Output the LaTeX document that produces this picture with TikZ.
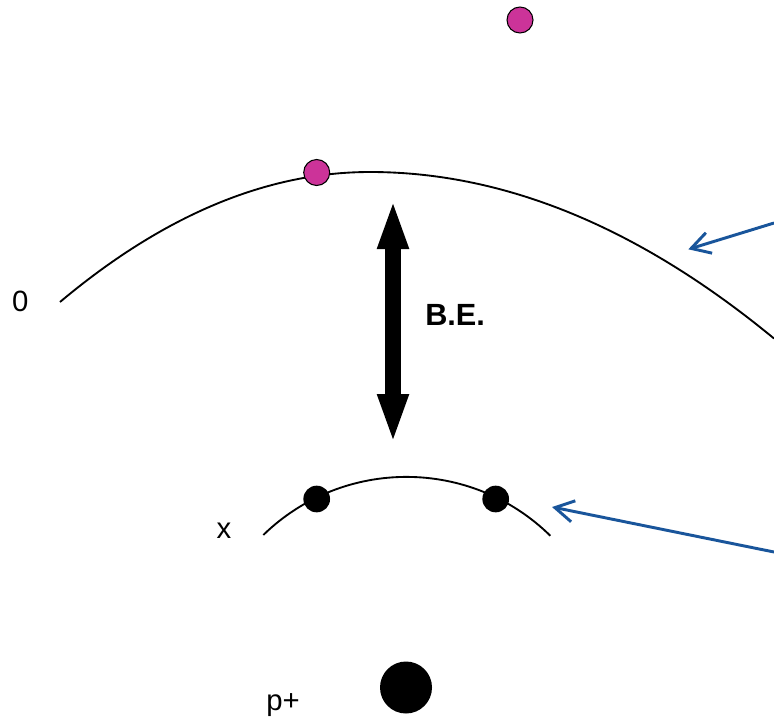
\documentclass[tikz,border=0pt]{standalone}
\usepackage{fontspec}
\setmainfont{Liberation Sans}
\usetikzlibrary{arrows.meta}
\definecolor{elecmag}{RGB}{204,51,153}
\definecolor{pointblue}{RGB}{25,85,155}
\tikzset{
  shellline/.style={line width=1.4pt, black},
  electron/.style={circle, draw=black, line width=0.8pt, fill=elecmag, inner sep=0pt, minimum size=19.5pt},
  boundelectron/.style={circle, fill=black, inner sep=0pt, minimum size=20pt},
  nucleus/.style={circle, fill=black, inner sep=0pt, minimum size=39pt},
  lbl/.style={font=\fontsize{22pt}{26pt}\selectfont, inner sep=0pt},
  belbl/.style={font=\fontsize{23pt}{27pt}\selectfont\bfseries, inner sep=0pt},
  bearrow/.style={line width=12pt, {Triangle[length=37.5pt,width=21pt]}-{Triangle[length=37.5pt,width=21pt]}},
  pointer/.style={pointblue, line width=2.2pt, -{Straight Barb[length=14pt,width=16pt,line width=2.2pt]}}
}
\begin{document}
\begin{tikzpicture}[x=0.75pt, y=-0.75pt]
\useasboundingbox[fill=white] (0,0) rectangle (774,721);
% outer level (0)
\coordinate (o1) at (60,302);
\coordinate (otop) at (370,172);
\coordinate (o2) at (774,338.5);
\draw[shellline] (o1) .. controls (163.3,215.3) and (266.7,172) .. (otop)
  .. controls (504.7,172) and (639.3,227.5) .. (o2);
% inner level (x)
\draw[shellline] (263.3,535) arc[start angle=-134.2, end angle=-45.5, radius=205.3];
% electrons and nucleus
\node[electron] (e1) at (520,20) {};
\node[electron] (e2) at (316.7,172.5) {};
\node[boundelectron] (e3) at (316.7,499) {};
\node[boundelectron] (e4) at (495.7,499) {};
\node[nucleus] (p) at (406,687.5) {};
% labels
\node[lbl, anchor=base] (l0) at (20.3,311.7) {0};
\node[lbl, anchor=base] (lx) at (224,538.3) {x};
\node[lbl, anchor=base west] (lp) at (266,710) {p+};
\node[belbl, anchor=base west] (be) at (425,325.7) {B.E.};
% binding energy arrow
\coordinate (betop) at (393,199);
\coordinate (bebot) at (393,444);
\draw[bearrow] (betop) -- (bebot);
% blue pointers
\coordinate (p1start) at (774,223);
\coordinate (p1end) at (688.3,249.3);
\coordinate (p2start) at (774,552);
\coordinate (p2end) at (552,507);
\draw[pointer] (p1start) -- (p1end);
\draw[pointer] (p2start) -- (p2end);
\end{tikzpicture}
\end{document}
